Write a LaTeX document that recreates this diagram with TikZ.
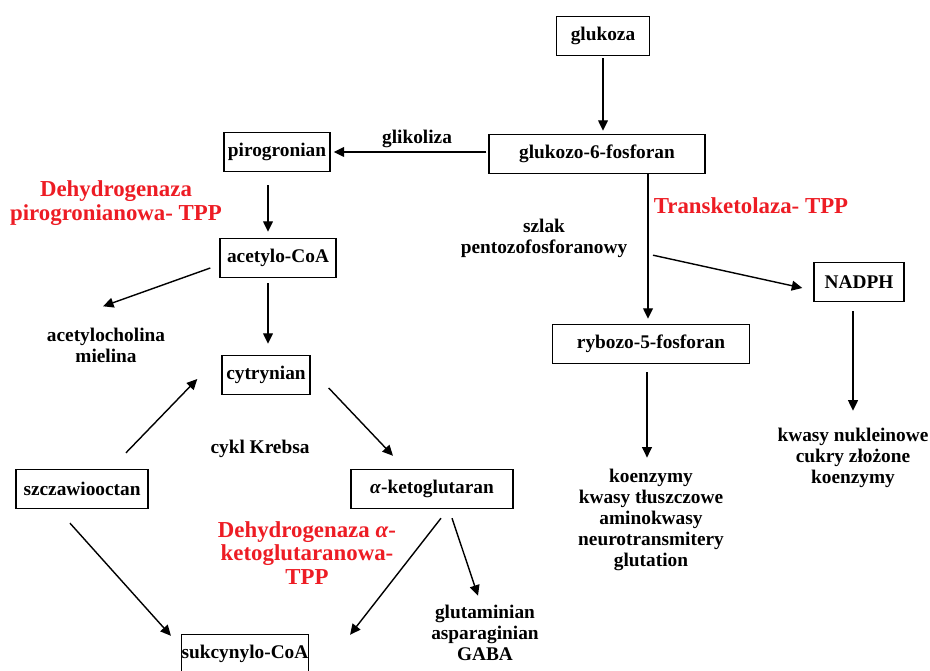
\documentclass[tikz,border=0pt]{standalone}
\usepackage{fontspec}
\setmainfont{Liberation Serif}
\usepackage{xcolor}
\usetikzlibrary{arrows.meta,calc}
\definecolor{enzred}{RGB}{237,28,36}

\tikzset{
  box/.style={draw, line width=0.8pt, minimum height=0.78cm, inner sep=0pt,
    font=\bfseries\fontsize{11}{12}\selectfont},
  lbl/.style={align=center, inner sep=0pt, font=\bfseries\fontsize{11}{12}\selectfont},
  enz/.style={align=center, inner sep=0pt, text=enzred,
    font=\bfseries\fontsize{13}{13.5}\selectfont},
  arr/.style={-{Triangle[length=6pt,width=5.6pt]}, line width=0.8pt}
}

\begin{document}
\begin{tikzpicture}[x=0.02cm,y=-0.02cm]
    \useasboundingbox (0,0) rectangle (930,671);

    % boxes
    \node[box, minimum width=1.86cm] (glu) at (603,36) {glukoza};
    \node[box, minimum width=4.32cm] (g6p) at (597,154) {glukozo-6-fosforan};
    \node[box, minimum width=2.12cm] (piro) at (277,152) {pirogronian};
    \node[box, minimum width=2.32cm] (acoa) at (278,258) {acetylo-CoA};
    \node[box, minimum width=1.76cm] (cytr) at (266,375) {cytrynian};
    \node[box, minimum width=2.64cm] (szcz) at (82,489) {szczawiooctan};
    \node[box, minimum width=3.24cm] (akg) at (432,489) {\textit{α}-ketoglutaran};
    \node[box, minimum width=2.52cm] (sukc) at (245,654) {sukcynylo-CoA};
    \node[box, minimum width=3.94cm] (rib) at (651,344) {rybozo-5-fosforan};
    \node[box, minimum width=1.80cm] (nadph) at (859,282) {NADPH};

    % labels
    \node[lbl] (glik) at (417,139) {glikoliza};
    \node[lbl] (achol) at (106,345) {acetylocholina\\mielina};
    \node[lbl] (krebs) at (260,449) {cykl Krebsa};
    \node[lbl] (glut) at (485,633) {glutaminian\\asparaginian\\GABA};
    \node[lbl] (pent) at (544,238) {szlak\\pentozofosforanowy};
    \node[lbl] (koenz) at (651,520) {koenzymy\\kwasy tłuszczowe\\aminokwasy\\neurotransmitery\\glutation};
    \node[lbl] (kwasy) at (853,458) {kwasy nukleinowe\\cukry złożone\\koenzymy};

    % enzymes
    \node[enz] (epdh) at (116,203) {Dehydrogenaza\\pirogronianowa- TPP};
    \node[enz] (ekgdh) at (307,553) {Dehydrogenaza \textit{α}-\\ketoglutaranowa-\\TPP};
    \node[enz] (etk) at (751,206) {Transketolaza- TPP};

    % arrows
    \draw[arr] ($(glu.south)+(0,2)$) -- ($(g6p.north)+(6,-3)$);
    \draw[arr] ($(g6p.west)+(-2,-2)$) -- ($(piro.east)+(3,0)$);
    \draw[arr] ($(piro.south)+(-9,13)$) -- ($(acoa.north)+(-10,-6)$);
    \draw[arr] ($(acoa.west)+(-9,10)$) -- ($(achol.north)+(-3,-21)$);
    \draw[arr] ($(acoa.south)+(-10,5)$) -- ($(cytr.north)+(2,-11)$);
    \draw[arr] ($(szcz.north)+(44,-16)$) -- ($(cytr.west)+(-24,4)$);
    \draw[arr] ($(cytr.east)+(18,13)$) -- ($(akg.north)+(-39,-13)$);
    \draw[arr] ($(szcz.south)+(-12,14)$) -- ($(sukc.north west)+(-10,2)$);
    \draw[arr] ($(akg.south)+(9,9)$) -- ($(sukc.north east)+(41,1)$);
    \draw[arr] ($(akg.south)+(20,9)$) -- ($(glut.north)+(-7,-9)$);
    \draw[arr] ($(g6p.south)+(51,0)$) -- ($(rib.north)+(-3,-5)$);
    \draw[arr] ($(g6p.south)+(56,81)$) -- ($(nadph.west)+(-11,6)$);
    \draw[arr] ($(rib.south)+(-4,8)$) -- ($(koenz.north)+(-4,-11)$);
    \draw[arr] ($(nadph.south)+(-6,9)$) -- ($(kwasy.north)+(0,-17)$);
\end{tikzpicture}
\end{document}
